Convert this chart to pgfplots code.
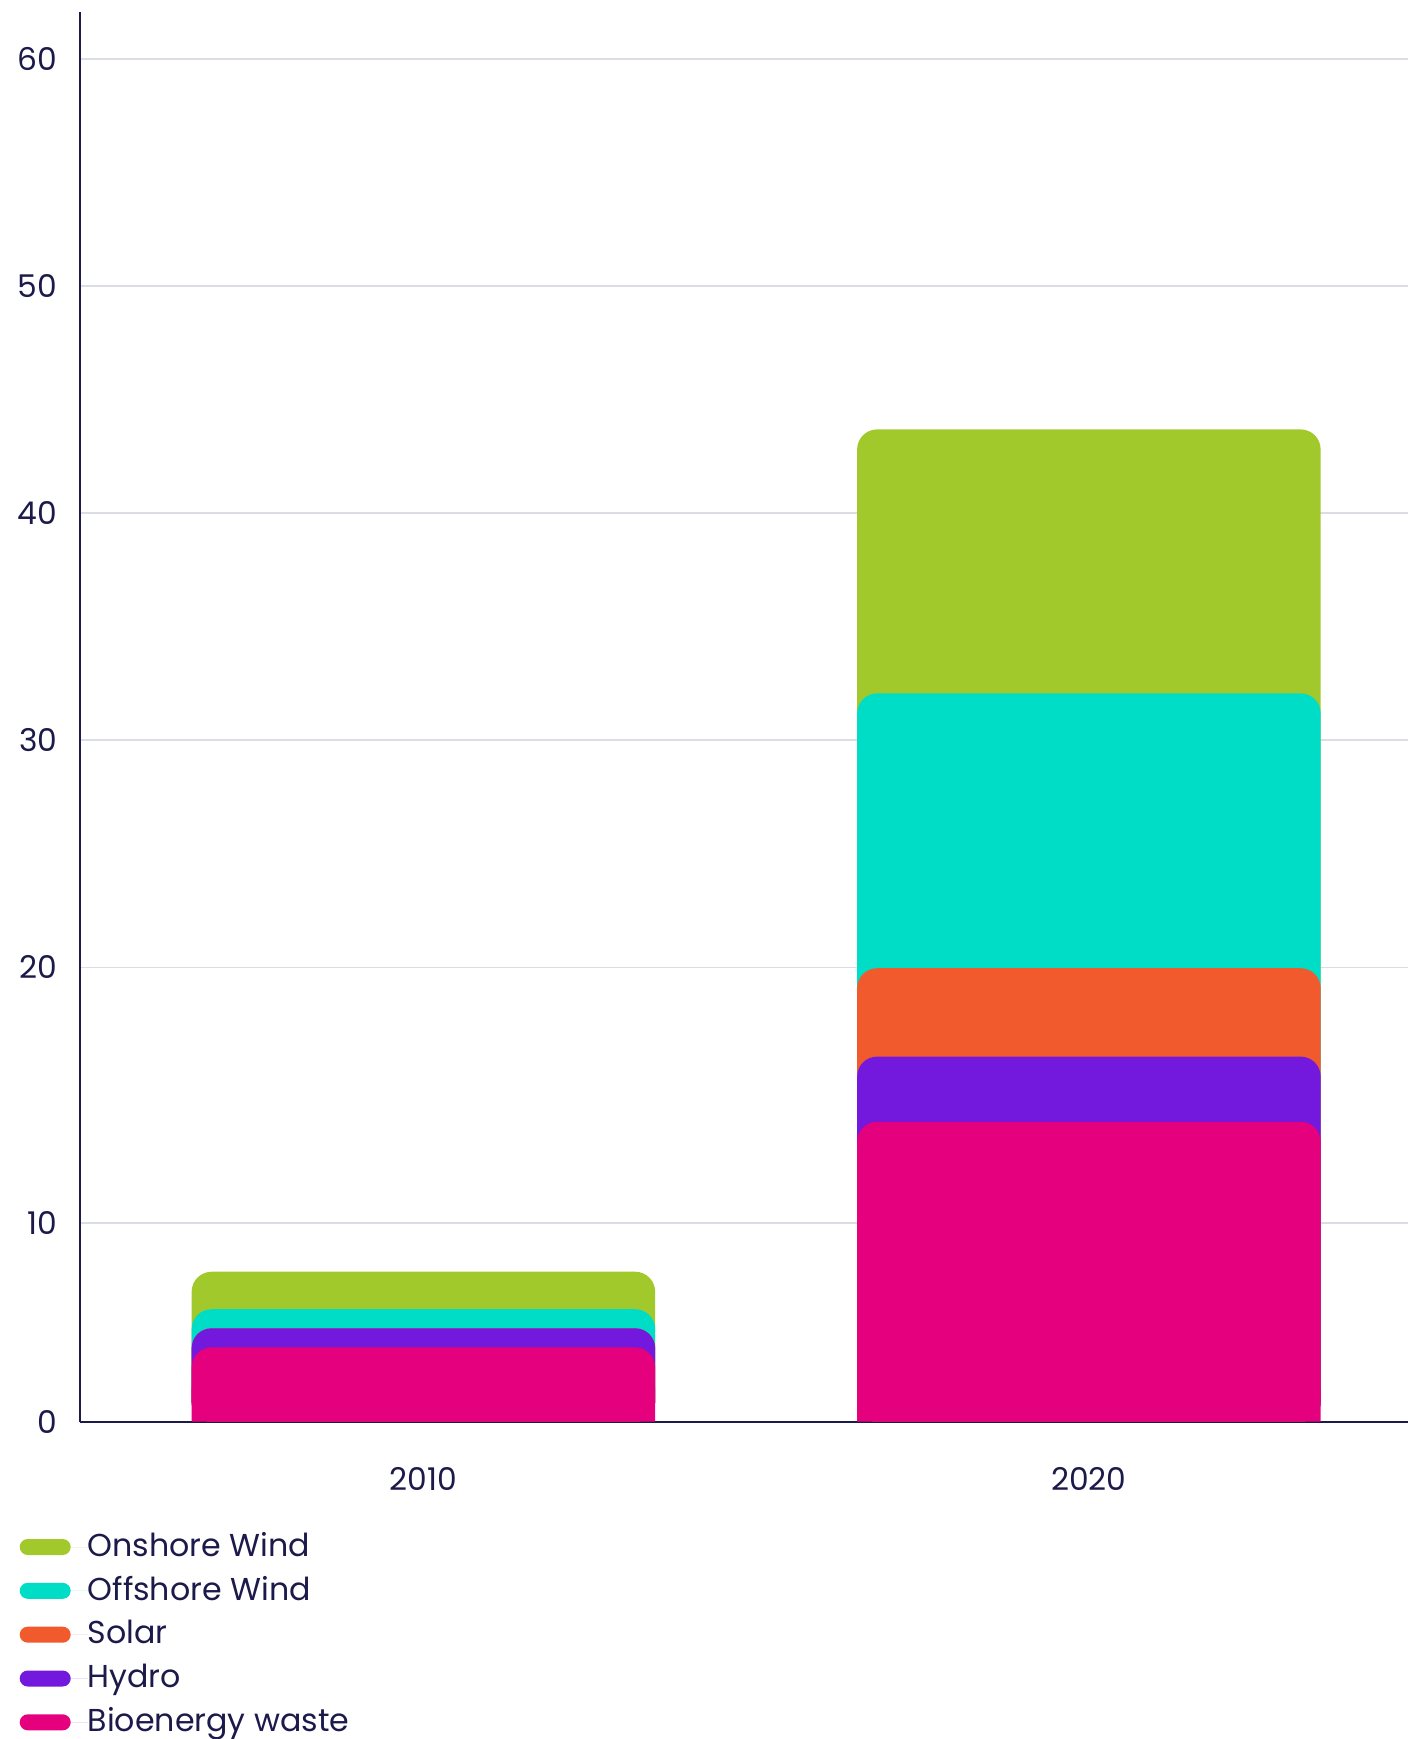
\documentclass[border=0pt]{standalone}
\usepackage{pgfplots}
\pgfplotsset{compat=1.18}
\usepackage{fontspec}
\setmainfont{Poppins}
\definecolor{navy}{HTML}{1C1A4A}
\definecolor{gridc}{HTML}{DCDCE4}
\definecolor{cOn}{HTML}{A2C92C}
\definecolor{cOff}{HTML}{00DDC6}
\definecolor{cSol}{HTML}{F15A2D}
\definecolor{cHyd}{HTML}{7318DD}
\definecolor{cBio}{HTML}{E5007D}
\begin{document}
\begin{tikzpicture}
\begin{axis}[
  name=ax,
  scale only axis, width=398.4pt, height=423pt,
  xmin=-0.516, xmax=1.4795, ymin=0, ymax=62.07,
  axis x line=bottom, axis y line=left,
  axis line style={navy, line width=0.6pt, -},
  ytick={0,8.76,20,30,40,50,60}, yticklabels={0,10,20,30,40,50,60},
  xtick={0,1}, xticklabels={2010,2020},
  major tick length=0pt,
  ymajorgrids, grid style={color=gridc, line width=0.5pt},
  /pgf/number format/assume math mode=true,
  tick label style={font=\fontsize{9.4}{12}\selectfont, text=navy},
  yticklabel style={inner sep=0pt, xshift=-6.6pt},
  xticklabel style={inner sep=0pt, yshift=-13.6pt},
  ybar, bar width=0.6965,
  every axis plot/.append style={draw=none, bar shift=0pt, rounded corners=6pt},
  legend style={at={(-0.0459,-0.076)}, anchor=north west, draw=none, fill=none,
    inner sep=0pt, row sep=2.65pt,
    nodes={inner sep=0pt, anchor=west, text height=8pt, text depth=2.5pt,
      font=\fontsize{9.5}{12}\selectfont, text=navy}},
  legend cell align=left,
  legend image code/.code={\fill[#1, sharp corners, rounded corners=2.4pt] (0pt,-2.4pt) rectangle (15.3pt,2.4pt); \path (0pt,0pt) -- (20.4pt,0pt);},
]
\addplot[fill=cOn] coordinates {(0,6.60) (1,43.68)};
\addplot[fill=cOff] coordinates {(0,4.95) (1,32.06)};
\addplot[fill=cSol] coordinates {(0,4.11) (1,19.96)};
\addplot[fill=cHyd] coordinates {(0,4.11) (1,16.07)};
\addplot[fill=cBio] coordinates {(0,3.27) (1,13.20)};
\addplot[fill=cBio, sharp corners, forget plot] coordinates {(0,1.5) (1,1.5)};
\legend{Onshore Wind, Offshore Wind, Solar, Hydro, Bioenergy waste}
\end{axis}
\pgfresetboundingbox
\path ([shift={(-24pt,-95.2pt)}]ax.south west) rectangle ([shift={(0pt,3.5pt)}]ax.north east);
\end{tikzpicture}
\end{document}
